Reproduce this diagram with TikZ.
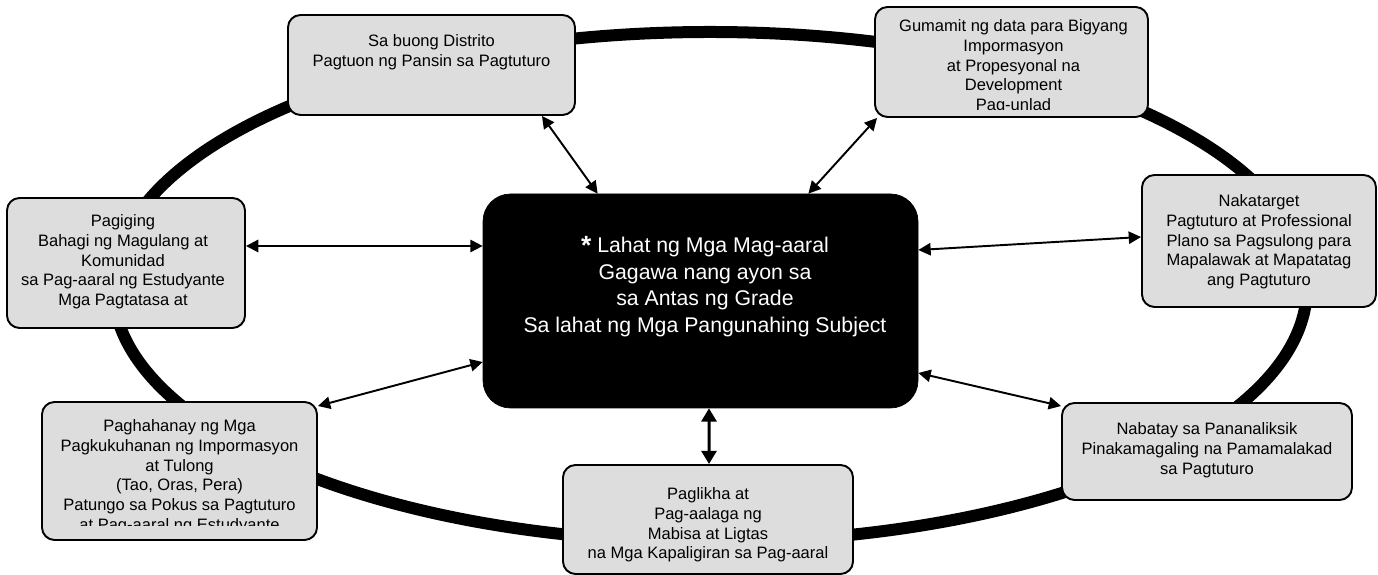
\documentclass[tikz,border=0pt]{standalone}
\usepackage{fontspec}
\setmainfont{Liberation Sans}
\usetikzlibrary{positioning,arrows.meta}
\definecolor{boxgray}{HTML}{DDDDDD}
\tikzset{
  box/.style={draw=black, line width=1.1pt, fill=boxgray, rounded corners=0.25cm, inner sep=0pt},
  txt/.style={align=center, inner sep=0pt, font=\fontsize{9.4}{11.3}\selectfont, text=black},
  dbl/.style={{Triangle[length=7pt,width=7pt]}-{Triangle[length=7pt,width=7pt]}, line width=1.1pt},
}
\begin{document}
\begin{tikzpicture}
\useasboundingbox (0,0) rectangle (27.56,11.5);
% the ring behind everything
\draw[line width=0.24cm] (14.2,5.76) ellipse [x radius=11.94, y radius=5.1];
% centre box
\node[draw, fill=black, rounded corners=0.55cm, minimum width=8.7cm, minimum height=4.28cm] (c) at (14.01,5.48) {};
\node[txt, text=white, font=\fontsize{12.1}{15.2}\selectfont, below=0.86cm of c.north, xshift=0.09cm] (ct)
  {\raisebox{-1pt}[0pt][0pt]{\fontsize{15}{15}\selectfont\bfseries *} Lahat ng Mga Mag-aaral\\Gagawa nang ayon sa\\sa Antas ng Grade\\Sa lahat ng Mga Pangunahing Subject};
% outer boxes
\node[box, minimum width=5.74cm, minimum height=2cm] (b1) at (8.63,10.2) {};
\node[txt, below=0.4cm of b1.north] (t1) {Sa buong Distrito\\Pagtuon ng Pansin sa Pagtuturo};
\node[box, minimum width=5.46cm, minimum height=2.2cm] (b2) at (20.23,10.26) {};
\begin{scope}
\clip (b2.north west) rectangle ([yshift=0.16cm]b2.south east);
\node[txt, below=0.26cm of b2.north, xshift=0.04cm] (t2) {Gumamit ng data para Bigyang\\Impormasyon\\at Propesyonal na\\Development\\Pag-unlad};
\end{scope}
\node[box, minimum width=4.76cm, minimum height=2.6cm] (b3) at (2.52,6.24) {};
\node[txt, below=0.34cm of b3.north, xshift=-0.06cm] (t3) {Pagiging\\Bahagi ng Magulang at\\Komunidad\\sa Pag-aaral ng Estudyante\\Mga Pagtatasa at};
\node[box, minimum width=4.68cm, minimum height=2.64cm] (b4) at (25.18,6.68) {};
\node[txt, below=0.4cm of b4.north] (t4) {Nakatarget\\Pagtuturo at Professional\\Plano sa Pagsulong para\\Mapalawak at Mapatatag\\ang Pagtuturo};
\node[box, minimum width=5.5cm, minimum height=2.76cm] (b5) at (3.59,2.08) {};
\begin{scope}
\clip (b5.north west) rectangle ([yshift=0.3cm]b5.south east);
\node[txt, below=0.36cm of b5.north] (t5) {Paghahanay ng Mga\\Pagkukuhanan ng Impormasyon\\at Tulong\\(Tao, Oras, Pera)\\Patungo sa Pokus sa Pagtuturo\\at Pag-aaral ng Estudyante};
\end{scope}
\node[box, minimum width=5.8cm, minimum height=2.18cm] (b6) at (14.16,1.11) {};
\node[txt, below=0.46cm of b6.north] (t6) {Paglikha at\\Pag-aalaga ng\\Mabisa at Ligtas\\na Mga Kapaligiran sa Pag-aaral};
\node[box, minimum width=5.8cm, minimum height=1.94cm] (b7) at (24.14,2.47) {};
\node[txt, below=0.4cm of b7.north] (t7) {Nabatay sa Pananaliksik\\Pinakamagaling na Pamamalakad\\sa Pagtuturo};
% arrows
\draw[dbl] ([xshift=-0.68cm]b1.south east) -- ([xshift=2.3cm]c.north west);
\draw[dbl] ([xshift=-2.2cm]c.north east) -- ([xshift=0.06cm]b2.south west);
\draw[dbl] ([yshift=0.34cm]b3.east) -- ([yshift=1.1cm]c.west);
\draw[dbl] ([yshift=1.02cm]c.east) -- ([yshift=0.08cm]b4.west);
\draw[dbl] ([yshift=-1.22cm]c.west) -- ([yshift=-0.1cm]b5.north east);
\draw[dbl] ([yshift=-1.44cm]c.east) -- ([yshift=-0.08cm]b7.north west);
\draw[{Triangle[length=7.5pt,width=8.5pt]}-{Triangle[length=7.5pt,width=8.5pt]}, line width=1.7pt] ([xshift=0.17cm]c.south) -- ([xshift=0.02cm]b6.north);
\end{tikzpicture}
\end{document}
